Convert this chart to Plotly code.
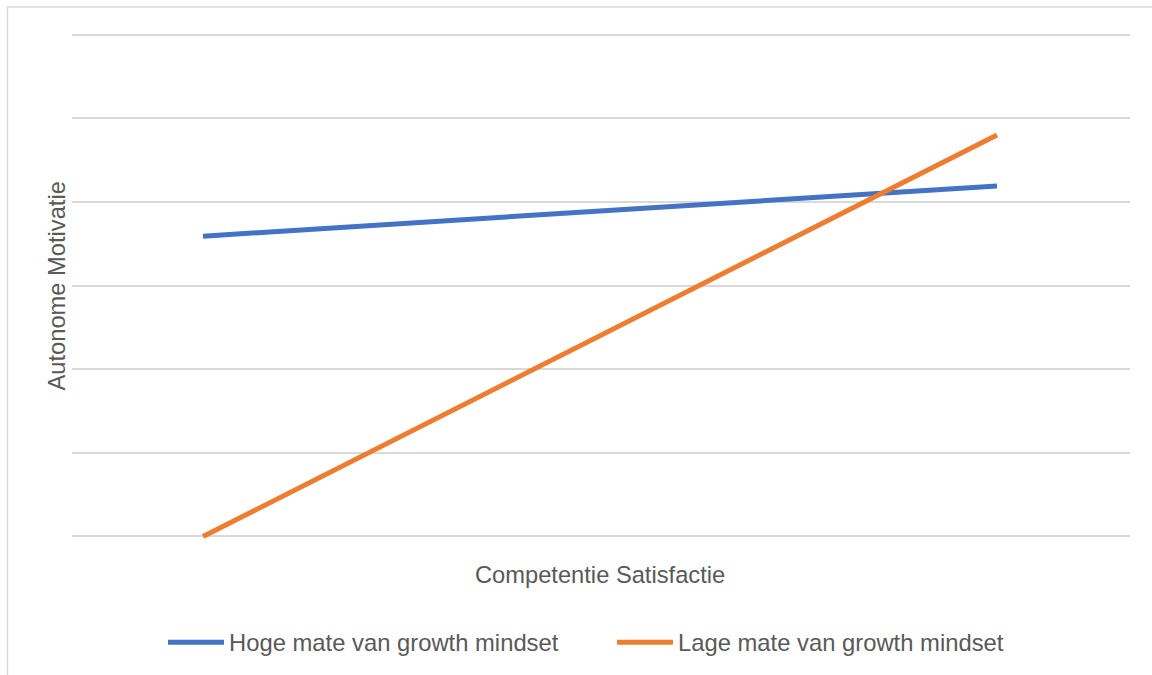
import plotly.graph_objects as go

# Data
categories = [0, 1]  # low / high Competentie Satisfactie
series_names = ["Hoge mate van growth mindset", "Lage mate van growth mindset"]
hoge_values = [3.59, 4.19]
lage_values = [0.0, 4.80]
colors = ["#4472C4", "#ED7D31"]
y_min, y_max = 0, 6

W, H = 1152, 675
# pixel geometry of the plot area (y=0 at 536px, y=6 at 35px)
L, R = 72, 1130
Y0PX, Y6PX = 536, 35
unit = (Y0PX - Y6PX) / (y_max - y_min)
pad_units = 0.03
T = Y6PX - pad_units * unit
B = Y0PX + pad_units * unit
pw, ph = R - L, B - T


def px_x(x):
    return (x - L) / pw


def px_y(y):
    return (B - y) / ph


fig = go.Figure()
for name, vals, col in zip(series_names, [hoge_values, lage_values], colors):
    fig.add_trace(go.Scatter(x=categories, y=vals, mode="lines", name=name,
                             line=dict(color=col, width=5), showlegend=False))

font_family = "Liberation Sans, Arial, sans-serif"
text_col = "#595959"

# manual legend (wide line samples like the original)
legend_items = [(168, 224, 227), (617, 673, 676)]
legend_y = 641.5
shapes = [
    dict(type="rect", xref="paper", yref="paper",
         x0=px_x(7.5), x1=px_x(1170), y0=px_y(700), y1=px_y(7.5),
         line=dict(color="#D9D9D9", width=1.5), fillcolor="rgba(0,0,0,0)", layer="below"),
]
annotations = [
    dict(text="Competentie Satisfactie", xref="paper", yref="paper",
         x=px_x(600), y=px_y(574), xanchor="center", yanchor="middle",
         showarrow=False, font=dict(size=23.7, color=text_col)),
    dict(text="Autonome Motivatie", xref="paper", yref="paper",
         x=px_x(57.5), y=px_y(286), xanchor="center", yanchor="middle", textangle=-90,
         showarrow=False, font=dict(size=23.7, color=text_col)),
]
for (x0, x1, tx), name, col in zip(legend_items, series_names, colors):
    shapes.append(dict(type="line", xref="paper", yref="paper",
                       x0=px_x(x0), x1=px_x(x1), y0=px_y(legend_y), y1=px_y(legend_y),
                       line=dict(color=col, width=5)))
    annotations.append(dict(text=name, xref="paper", yref="paper",
                            x=px_x(tx), y=px_y(legend_y), xanchor="left", yanchor="middle",
                            showarrow=False, font=dict(size=23.8, color=text_col)))

fig.update_layout(
    width=W, height=H,
    margin=dict(l=L, r=W - R, t=T, b=H - B, pad=0),
    paper_bgcolor="white", plot_bgcolor="white",
    font=dict(family=font_family, color=text_col, size=18),
    xaxis=dict(range=[-0.165, 1.1675], showticklabels=False, showgrid=False,
               zeroline=False, showline=False, ticks=""),
    yaxis=dict(range=[y_min - pad_units, y_max + pad_units], tick0=0, dtick=1,
               showticklabels=False, showgrid=True,
               gridcolor="#D9D9D9", gridwidth=1.5, zeroline=False, showline=False, ticks=""),
    showlegend=False,
    annotations=annotations,
    shapes=shapes,
)

fig.write_html("out.html")
